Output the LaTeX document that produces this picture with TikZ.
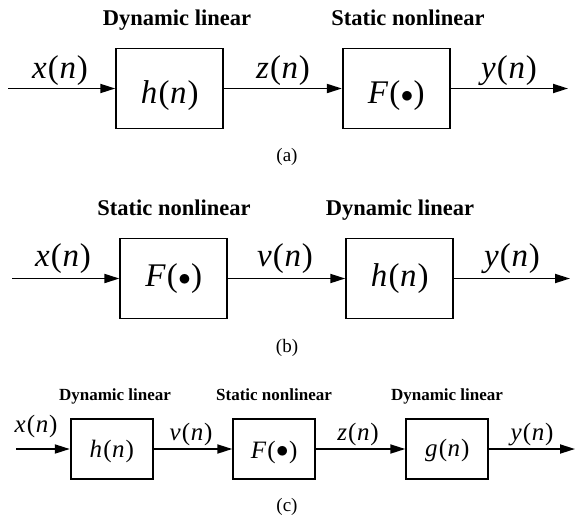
\documentclass[tikz,border=0pt]{standalone}
\usepackage{fontspec}
\setmainfont{Liberation Serif}
\usetikzlibrary{arrows.meta}
\newcommand\fnl[2]{\textit{#1}\kern1.2pt(\kern0.6pt\textit{#2}\kern0.8pt)}
\newcommand\blt{\kern0.5pt\raisebox{0.03em}{$\bullet$}\kern0.5pt}
\begin{document}
\begin{tikzpicture}[x=1pt,y=-1pt,
  blk/.style={draw,line width=1.8pt,inner sep=0pt,text depth=0pt},
  blkA/.style={blk,minimum width=107pt,minimum height=80pt,font=\fontsize{33}{35}\selectfont},
  blkC/.style={blk,minimum width=82pt,minimum height=60pt,font=\fontsize{25}{27}\selectfont},
  sig/.style={line width=1.8pt,-{Triangle[length=15pt,width=9pt]}},
  lbl/.style={inner sep=0pt,anchor=base},
  big/.style={lbl,font=\fontsize{33}{35}\selectfont},
  small/.style={lbl,font=\fontsize{25}{27}\selectfont},
  head/.style={lbl,font=\fontsize{22.5}{24}\selectfont\bfseries},
  heads/.style={lbl,font=\fontsize{17}{19}\selectfont\bfseries},
  capt/.style={lbl,font=\fontsize{19}{21}\selectfont},
]
\useasboundingbox (0,0) rectangle (576,523);

% ---------- (a)
\node[blkA,text height=30pt] (ha) at (169.7,88.5) {\fnl{h}{n}};
\node[blkA,text height=29pt] (Fa) at (396.3,88.5) {\textit{F}\kern1pt(\blt)};
\coordinate (ina) at (8,88.5);
\coordinate (outa) at (568,88.5);
\draw[sig] (ina) -- (ha);
\draw[sig] (ha) -- (Fa);
\draw[sig] (Fa) -- (outa);
\node[big] (xa) at (60,78) {\fnl{x}{n}};
\node[big] (za) at (283,78) {\fnl{z}{n}};
\node[big] (ya) at (509,78) {\fnl{y}{n}};
\node[head] (da) at (177,25) {Dynamic linear};
\node[head] (sa) at (408,25) {Static nonlinear};
\node[capt] (ca) at (287,161) {(a)};

% ---------- (b)
\node[blkA,text height=15pt] (Fb) at (173.8,278.5) {\textit{F}\kern1pt(\blt)};
\node[blkA,text height=15pt] (hb) at (399.7,278.5) {\fnl{h}{n}};
\coordinate (inb) at (12,278.5);
\coordinate (outb) at (570,278.5);
\draw[sig] (inb) -- (Fb);
\draw[sig] (Fb) -- (hb);
\draw[sig] (hb) -- (outb);
\node[big] (xb) at (63,266.5) {\fnl{x}{n}};
\node[big] (vb) at (285,266.5) {\fnl{v}{n}};
\node[big] (yb) at (512,266.5) {\fnl{y}{n}};
\node[head] (sb) at (174,215) {Static nonlinear};
\node[head] (db) at (400,215) {Dynamic linear};
\node[capt] (cb) at (287,352) {(b)};

% ---------- (c)
\node[blkC,text height=16pt] (hc) at (111.7,449) {\fnl{h}{n}};
\node[blkC,text height=19pt] (Fc) at (274.2,449) {\textit{F}\kern1pt(\blt)};
\node[blkC,text height=15pt] (gc) at (447.2,449) {\fnl{g}{n}};
\coordinate (inc) at (16,449);
\coordinate (outc) at (575,449);
\draw[sig] (inc) -- (hc);
\draw[sig] (hc) -- (Fc);
\draw[sig] (Fc) -- (gc);
\draw[sig] (gc) -- (outc);
\node[small] (xc) at (36,432.5) {\fnl{x}{n}};
\node[small] (vc) at (191,440.5) {\fnl{v}{n}};
\node[small] (zc) at (358,440.5) {\fnl{z}{n}};
\node[small] (yc) at (532,440.5) {\fnl{y}{n}};
\node[heads] (dc1) at (115,400) {Dynamic linear};
\node[heads] (sc) at (274,400) {Static nonlinear};
\node[heads] (dc2) at (447,400) {Dynamic linear};
\node[capt] (cc) at (287,511) {(c)};
\end{tikzpicture}
\end{document}
